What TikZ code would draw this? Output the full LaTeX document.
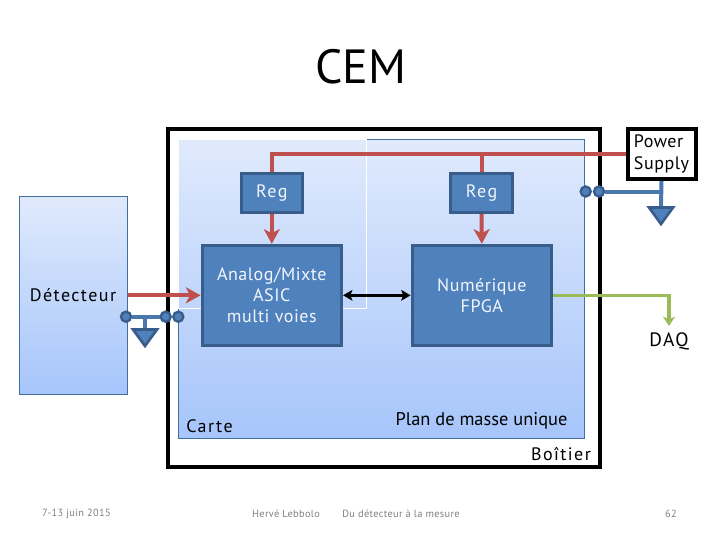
\documentclass[tikz,border=0pt]{standalone}
\usepackage{fontspec}
\setmainfont{PT Sans}
\newfontfamily\lblfont[LetterSpace=3]{PT Sans}
\newfontfamily\widefont[LetterSpace=8]{PT Sans}
\newfontfamily\footfont[LetterSpace=3]{PT Sans}
\usetikzlibrary{arrows.meta}
\definecolor{boxfill}{HTML}{4F81BD}
\definecolor{boxline}{HTML}{385D8A}
\definecolor{gradtop}{HTML}{E0EAFC}
\definecolor{gradbot}{HTML}{A6C5FB}
\definecolor{redline}{HTML}{C0504D}
\definecolor{greenline}{HTML}{9BBB59}
\definecolor{footgray}{HTML}{808080}
\definecolor{boxtext}{HTML}{F2F6FC}
\tikzset{
  panel/.style={draw=boxfill!85!black, line width=0.75pt, top color=gradtop, bottom color=gradbot, middle color=gradtop!50!gradbot, inner sep=0pt},
  block/.style={draw=boxline, fill=boxfill, line width=2.25pt, inner sep=0pt, text=boxtext, align=center, font=\fontsize{13.5}{16}\lblfont},
  lbl/.style={inner sep=0pt, text=black, font=\fontsize{13.5}{16}\widefont},
  foot/.style={inner sep=0pt, text=footgray, font=\fontsize{7.8}{9}\footfont},
  redarrow/.style={draw=redline, line width=3pt, -{Stealth[length=11pt,width=12pt,inset=3pt]}},
  redplain/.style={draw=redline, line width=3pt},
  bluewire/.style={draw=boxfill!92!black, line width=3pt},
  terminal/.style={circle, draw=boxline, fill=boxfill, line width=1.8pt, minimum size=7.5pt, inner sep=0pt},
  groundtri/.style={draw=boxline, fill=boxfill, line width=2pt, line join=miter},
}
\begin{document}
\begin{tikzpicture}[x=0.75pt,y=-0.75pt]
\useasboundingbox (0,0) rectangle (720,540);
% panels
\node[panel, minimum width=81pt, minimum height=149pt] (det) at (73.5,295.5) {};
\node[lbl] (dettxt) at (73,295.5) {Détecteur};
\node[panel, minimum width=304.5pt, minimum height=224.5pt] (card) at (381,288.7) {};
\draw[white, line width=0.75pt] (178,139) rectangle (366,308);
% enclosure
\node[draw=black, line width=3pt, minimum width=324pt, minimum height=253.5pt, inner sep=0pt] (boitier) at (383.5,298) {};
% power supply
\node[draw=black, fill=white, line width=3pt, minimum width=51pt, minimum height=37.5pt, inner sep=0pt, align=left, font=\fontsize{13.5}{16.5}\lblfont] (ps) at (661.5,154) {Power\\Supply};
% blocks
\node[block, minimum width=46pt, minimum height=29pt, font=\fontsize{13.5}{16}\widefont] (reg1) at (271.8,193.3) {Reg};
\node[block, minimum width=46pt, minimum height=29pt, font=\fontsize{13.5}{16}\widefont] (reg2) at (481.5,193.3) {Reg};
\node[block, minimum width=104.6pt, minimum height=75pt] (asic) at (271.8,295.3) {Analog/Mixte\\ASIC\\multi voies};
\node[block, minimum width=104.6pt, minimum height=75pt] (fpga) at (481.8,295.3) {Numérique\\FPGA};
% power rail
\coordinate (rail1) at (reg1.north |- ps.west);
\coordinate (rail2) at (reg2.north |- ps.west);
\draw[redplain, line join=miter] (ps.west) -- (rail1) -- (reg1.north);
\draw[redplain] (rail2) -- (reg2.north);
\draw[redarrow] (reg1.south) -- (asic.north);
\draw[redarrow] (reg2.south) -- (fpga.north);
\draw[redarrow] (det.east |- asic.west) -- (asic.west);
% digital link
\draw[black, line width=2pt, {Stealth[length=7pt,width=8pt,inset=1.5pt]}-{Stealth[length=7pt,width=8pt,inset=1.5pt]}] (asic.east) -- (fpga.west);
% DAQ
\node[lbl, font=\fontsize{14.5}{16}\widefont] (daq) at (669,341) {DAQ};
\coordinate (daqturn) at (daq.north |- fpga.east);
\coordinate (daqend) at (669,326);
\draw[greenline, line width=2.4pt, line join=miter, -{Stealth[length=7pt,width=9pt,inset=2pt]}] (fpga.east) -- (daqturn) -- (daqend);
% left ground
\node[terminal] (t1) at (126,316.7) {};
\node[terminal] (t2) at (165.7,316.7) {};
\node[terminal] (t3) at (178.3,316.7) {};
\coordinate (g1top) at (145,329);
\coordinate (g1j) at (145,316.7);
\draw[bluewire] (t1) -- (t2);
\draw[bluewire] (g1j) -- (g1top);
\draw[groundtri] (133,329.5) -- (157,329.5) -- (145,346) -- cycle;
% right ground
\node[terminal] (t4) at (585.7,191.5) {};
\node[terminal] (t5) at (599,191.5) {};
\coordinate (g2j) at (ps.south |- t5);
\coordinate (g2top) at (661,207);
\draw[bluewire] (t5) -- (g2j);
\draw[bluewire] (ps.south) -- (g2top);
\draw[groundtri] (649,207.5) -- (673,207.5) -- (661,224) -- cycle;
% labels
\node[lbl] (carte) at (209.5,426) {Carte};
\node[inner sep=0pt, font=\fontsize{13.8}{16}\selectfont] (plan) at (481.5,421) {Plan de masse unique};
\node[lbl] (boit) at (561,454) {Boîtier};
\node[inner sep=0pt, font=\fontsize{36}{40}\selectfont] (title) at (361,67) {CEM};
\node[foot] (f1) at (76.5,514) {7-13 juin 2015};
\node[foot] (f2) at (286,514) {Hervé Lebbolo};
\node[foot] (f3) at (401,514) {Du détecteur à la mesure};
\node[foot] (f4) at (671,514) {62};
\end{tikzpicture}
\end{document}
